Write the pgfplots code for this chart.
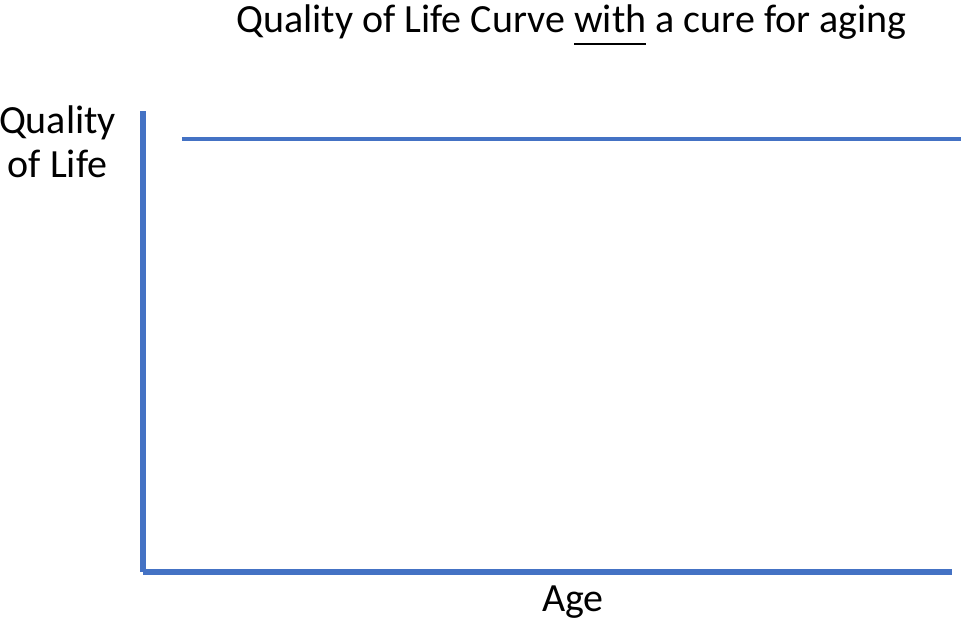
\documentclass[border=0pt]{standalone}
\usepackage{fontspec}
\setmainfont{Carlito}
\usepackage{pgfplots}
\pgfplotsset{compat=1.18}

\definecolor{lineblue}{HTML}{4472C4}

% underline set a little below the baseline, as in the slide
\newcommand\ulword[1]{\setbox0\hbox{#1}\rlap{\rule[-12.3pt]{\wd0}{2.6pt}}\box0\relax}

\tikzset{lbl/.style={inner sep=0pt, anchor=base, font=\fontsize{40}{48}\selectfont}}

\begin{document}
\begin{tikzpicture}
\begin{axis}[
  scale only axis,
  width=809pt, height=461pt,
  xmin=143, xmax=952,
  ymin=55, ymax=516,
  axis lines=left,
  x axis line style={lineblue, line width=5.6pt, -},
  y axis line style={lineblue, line width=6pt, -},
  xtick=\empty, ytick=\empty,
  clip=false,
]
  % canvas corners
  \coordinate (ll) at (axis cs:0,0);
  \coordinate (ur) at (axis cs:961,627);

  % constant quality of life
  \addplot[lineblue, line width=4pt] coordinates {(182,488.3) (961,488.3)};

  \node[lbl] at (axis cs:571.5,594) {Quality of Life Curve \ulword{with} a cure for aging};
  \node[lbl] at (axis cs:57.5,493) {Quality};
  \node[lbl] at (axis cs:57.5,449) {of Life};
  \node[lbl] at (axis cs:573,16) {Age};
\end{axis}
\pgfresetboundingbox
\useasboundingbox (ll) rectangle (ur);
\end{tikzpicture}
\end{document}
